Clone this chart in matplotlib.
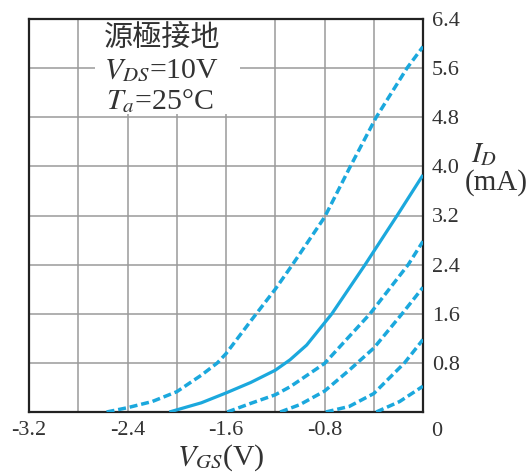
import numpy as np
import matplotlib
matplotlib.use('Agg')
import matplotlib.pyplot as plt
from matplotlib.patches import Rectangle

plt.rcParams['font.family'] = ['Liberation Serif', 'Noto Sans CJK TC', 'DejaVu Sans']
plt.rcParams['mathtext.fontset'] = 'stix'

# curves: V_GS (V) -> I_D (mA)
c1_x = [-2.57, -2.4, -2.2, -2.0, -1.8, -1.67, -1.6, -1.4, -1.2, -1.06, -0.8, -0.59, -0.38, -0.13, 0.0]
c1_y = [0.0, 0.07, 0.17, 0.33, 0.6, 0.8, 0.95, 1.48, 2.0, 2.4, 3.17, 4.0, 4.8, 5.6, 5.95]

c2_x = [-2.06, -1.8, -1.6, -1.4, -1.2, -1.08, -0.945, -0.74, -0.47, -0.21, 0.0]
c2_y = [0.0, 0.15, 0.31, 0.48, 0.68, 0.85, 1.09, 1.6, 2.4, 3.2, 3.86]

c3_x = [-1.59, -1.4, -1.2, -1.08, -0.8, -0.43, -0.12, 0.0]
c3_y = [0.0, 0.14, 0.28, 0.41, 0.79, 1.6, 2.4, 2.78]

c4_x = [-1.16, -1.0, -0.8, -0.6, -0.4, -0.17, 0.0]
c4_y = [0.0, 0.12, 0.34, 0.68, 1.04, 1.6, 2.03]

c5_x = [-0.79, -0.6, -0.4, -0.15, 0.0]
c5_y = [0.0, 0.09, 0.3, 0.8, 1.18]

c6_x = [-0.38, -0.19, 0.0]
c6_y = [0.0, 0.17, 0.42]

x_ticks = [-3.2, -2.8, -2.4, -2.0, -1.6, -1.2, -0.8, -0.4, 0.0]
x_labels = ['-3.2', '', '-2.4', '', '-1.6', '', '-0.8', '', '']
y_ticks = [0.0, 0.8, 1.6, 2.4, 3.2, 4.0, 4.8, 5.6, 6.4]
y_labels = ['', '0.8', '1.6', '2.4', '3.2', '4.0', '4.8', '5.6', '6.4']

blue = '#1ba8dd'
dash = (0, (2.3, 1.1))

fig = plt.figure(figsize=(5.31, 4.72), dpi=100)
ax = fig.add_axes([29/531, 1-412/472, 394/531, 393/472])

ax.plot(c1_x, c1_y, color=blue, lw=2.5, linestyle=dash, zorder=3)
ax.plot(c2_x, c2_y, color=blue, lw=2.3, solid_capstyle='butt', zorder=3)
ax.plot(c3_x, c3_y, color=blue, lw=2.5, linestyle=dash, zorder=3)
ax.plot(c4_x, c4_y, color=blue, lw=2.5, linestyle=dash, zorder=3)
ax.plot(c5_x, c5_y, color=blue, lw=2.5, linestyle=dash, zorder=3)
ax.plot(c6_x, c6_y, color=blue, lw=2.5, linestyle=dash, zorder=3)

ax.set_xlim(-3.2, 0)
ax.set_ylim(0, 6.4)
ax.set_xticks(x_ticks)
ax.set_xticklabels(x_labels)
ax.yaxis.tick_right()
ax.set_yticks(y_ticks)
ax.set_yticklabels(y_labels)
ax.tick_params(axis='x', length=0, pad=6.5, labelsize=16, colors='#333333')
ax.tick_params(axis='y', length=0, pad=6.5, labelsize=16, colors='#333333')
ax.set_axisbelow(True)
ax.grid(True, color='#9a9a9a', lw=1.1)
for s in ax.spines.values():
    s.set_linewidth(1.6)
    s.set_color('#222222')

# white patch behind the condition text
ax.add_patch(Rectangle((-2.66, 4.85), 1.17, 1.6, fc='white', ec='none', zorder=1))

ax.annotate('0', xy=(0, 0), xytext=(10, -7), textcoords='offset points',
            ha='center', va='top', fontsize=16, color='#333333')

fig.text(162/531, 1-38/472, '源極接地', ha='center', va='center', fontsize=21,
         family=['Noto Sans CJK TC'], color='#333333')
fig.text(162/531, 1-71/472, r'$V_{DS}$=10V', ha='center', va='center', fontsize=21.5, color='#333333')
fig.text(160/531, 1-101/472, r'$T_a$=25°C', ha='center', va='center', fontsize=21.5, color='#333333')

fig.text(484/531, 1-155/472, r'$I_D$', ha='center', va='center', fontsize=21, color='#333333')
fig.text(496/531, 1-183/472, '(mA)', ha='center', va='center', fontsize=21, color='#333333')
fig.text(221/531, 1-458/472, r'$V_{GS}$(V)', ha='center', va='center', fontsize=21.5, color='#333333')

fig.savefig('out.png', dpi=100)
